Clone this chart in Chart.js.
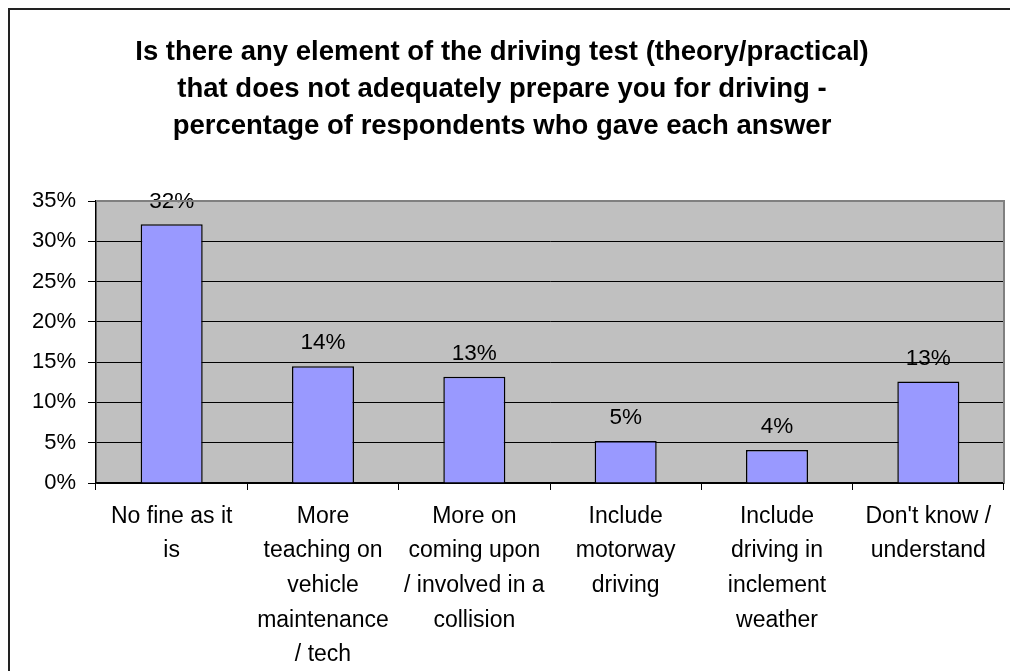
<!DOCTYPE html>
<html lang="en">
<head>
<meta charset="UTF-8">
<title>Driving test - survey chart</title>
<script src="https://cdn.jsdelivr.net/npm/chart.js@4.4.0/dist/chart.umd.min.js"></script>
<style>
  body { margin: 0; background: #ffffff; }
  canvas { display: block; }
</style>
</head>
<body>
<canvas id="surveyChart" width="1010" height="671"></canvas>
<script>
// data
const titleLines = [
  'Is there any element of the driving test (theory/practical)',
  'that does not adequately prepare you for driving -',
  'percentage of respondents who gave each answer'
];
const categories = [
  ['No fine as it', 'is'],
  ['More', 'teaching on', 'vehicle', 'maintenance', '/ tech'],
  ['More on', 'coming upon', '/ involved in a', 'collision'],
  ['Include', 'motorway', 'driving'],
  ['Include', 'driving in', 'inclement', 'weather'],
  ["Don't know /", 'understand']
];
const percentages = [32.1, 14.5, 13.2, 5.2, 4.1, 12.6];
const valueLabels = ['32%', '14%', '13%', '5%', '4%', '13%'];
const yMin = 0, yMax = 35, yStep = 5;

const FONT = '"Liberation Sans", Arial, sans-serif';

// grey plot area + outer frame of the chart
const chartFrame = {
  id: 'chartFrame',
  beforeDraw(chart) {
    const { ctx, chartArea: a } = chart;
    ctx.save();
    ctx.fillStyle = '#ffffff';
    ctx.fillRect(0, 0, chart.width, chart.height);
    ctx.fillStyle = '#c0c0c0';
    ctx.fillRect(a.left, a.top, a.right - a.left, a.bottom - a.top);
    ctx.strokeStyle = '#222222';
    ctx.lineWidth = 2;
    ctx.beginPath();
    ctx.moveTo(9, chart.height);
    ctx.lineTo(9, 9);
    ctx.lineTo(chart.width, 9);
    ctx.stroke();
    ctx.restore();
  },
  afterDraw(chart) {
    const { ctx, chartArea: a } = chart;
    ctx.save();
    ctx.strokeStyle = '#808080';
    ctx.lineWidth = 2;
    ctx.beginPath();
    ctx.moveTo(a.left, a.top);
    ctx.lineTo(a.right, a.top);
    ctx.lineTo(a.right, a.bottom);
    ctx.stroke();
    ctx.restore();
  }
};

// value labels above each bar
const barLabels = {
  id: 'barLabels',
  afterDatasetsDraw(chart) {
    const { ctx } = chart;
    const meta = chart.getDatasetMeta(0);
    ctx.save();
    ctx.font = '22.5px ' + FONT;
    ctx.fillStyle = '#000000';
    ctx.textAlign = 'center';
    ctx.textBaseline = 'middle';
    meta.data.forEach((bar, i) => {
      ctx.fillText(valueLabels[i], bar.x, bar.y - 23);
    });
    ctx.restore();
  }
};

const ctx = document.getElementById('surveyChart').getContext('2d');
const surveyChart = new Chart(ctx, {
  type: 'bar',
  data: {
    labels: categories,
    datasets: [{
      data: percentages,
      backgroundColor: '#9999ff',
      borderColor: '#000000',
      borderWidth: 1.5,
      categoryPercentage: 1,
      barPercentage: 0.41
    }]
  },
  options: {
    responsive: false,
    animation: false,
    layout: { padding: { left: 0, right: 6, top: 34, bottom: 0 } },
    plugins: {
      legend: { display: false },
      tooltip: { enabled: false },
      title: {
        display: true,
        text: titleLines,
        color: '#000000',
        font: { family: FONT, size: 27.5, weight: 'bold', lineHeight: 37 / 27.5 },
        padding: { top: 0, bottom: 56 }
      }
    },
    scales: {
      x: {
        offset: true,
        grid: { offset: true, drawOnChartArea: false, drawTicks: true, tickLength: 7, color: '#000000' },
        border: { color: '#000000', width: 1.5 },
        ticks: {
          color: '#000000',
          font: { family: FONT, size: 23, lineHeight: 34.7 / 23 },
          padding: 9,
          maxRotation: 0,
          autoSkip: false
        },
        afterFit(scale) { scale.height = 188; }
      },
      y: {
        min: yMin,
        max: yMax,
        grid: { color: '#000000', lineWidth: 1, tickLength: 8 },
        border: { color: '#000000', width: 1.5 },
        ticks: {
          stepSize: yStep,
          color: '#000000',
          font: { family: FONT, size: 22 },
          padding: 12,
          callback: v => v + '%'
        },
        afterFit(scale) { scale.width = 96; }
      }
    }
  },
  plugins: [chartFrame, barLabels]
});
</script>
</body>
</html>
